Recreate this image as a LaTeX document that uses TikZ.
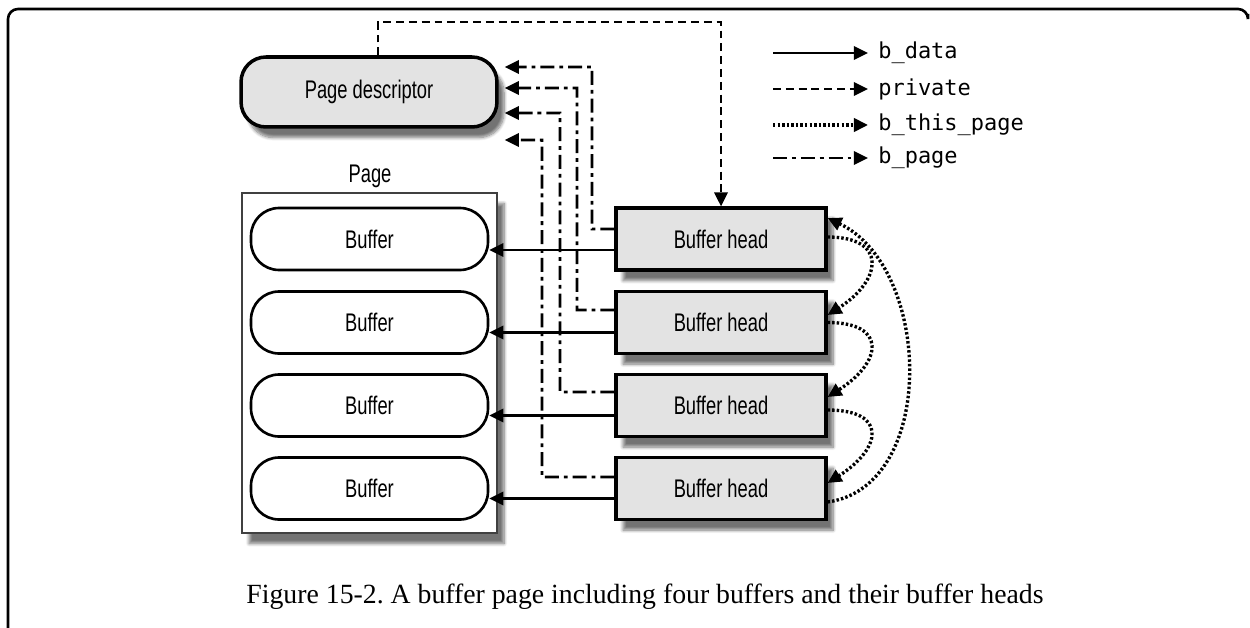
\documentclass[tikz,border=0pt]{standalone}
\usepackage{fontspec}
\setmainfont{Liberation Serif}
\newfontfamily\cond[FakeStretch=0.72]{Liberation Sans}
\newfontfamily\mono{DejaVu Sans Mono}
\usetikzlibrary{arrows.meta,shadows.blur}
\definecolor{boxgray}{HTML}{E3E3E3}
\frenchspacing
\begin{document}
\begin{tikzpicture}[x=0.02cm,y=-0.02cm,
  tip/.style={-{Triangle[length=8pt,width=7.5pt]}},
  bdata/.style={tip, line width=1.6pt},
  bpriv/.style={tip, line width=1.6pt, dash pattern=on 4.5pt off 2.8pt},
  bthis/.style={tip, line width=1.9pt, dash pattern=on 1.4pt off 1.2pt},
  bpage/.style={tip, line width=1.6pt, dash pattern=on 8pt off 2.8pt on 2.2pt off 2.8pt},
  shad/.style={blur shadow={shadow xshift=4pt,shadow yshift=-6pt,shadow opacity=55,shadow blur steps=8}},
  lbl/.style={font=\cond\fontsize{14.5}{16}\selectfont},
  bhbox/.style={draw, line width=1.8pt, fill=boxgray, minimum width=4.2cm, minimum height=1.24cm, lbl, shad},
  bufbox/.style={draw, line width=1.5pt, fill=white, rounded corners=0.56cm, minimum width=4.74cm, minimum height=1.24cm, lbl},
  legtxt/.style={anchor=west, inner sep=0pt, font=\mono\fontsize{12.5}{14}\selectfont}
]
\useasboundingbox (0,0) rectangle (1250,628);
% frame
\draw[line width=1.5pt, rounded corners=0.2cm] (8,628) -- (8,9) -- (1248,9) -- (1248,14);

% page descriptor
\node[draw, line width=2pt, fill=boxgray, rounded corners=0.5cm, minimum width=5.12cm, minimum height=1.4cm, lbl, shad] (pd) at (369,92) {Page descriptor};

% page
\node[lbl] (pagelbl) at (370,176) {Page};
\node[draw, line width=1pt, draw=black!75, fill=white, minimum width=5.1cm, minimum height=6.8cm, shad] (page) at (369.5,363) {};

% buffers
\node[bufbox] (buf1) at (369.5,239) {Buffer};
\node[bufbox] (buf2) at (369.5,322.5) {Buffer};
\node[bufbox] (buf3) at (369.5,405.5) {Buffer};
\node[bufbox] (buf4) at (369.5,488.5) {Buffer};

% buffer heads
\node[bhbox] (bh1) at (721,239) {Buffer head};
\node[bhbox] (bh2) at (721,322.5) {Buffer head};
\node[bhbox] (bh3) at (721,405.5) {Buffer head};
\node[bhbox] (bh4) at (721,488.5) {Buffer head};

% b_data
\draw[bdata] ([yshift=-0.22cm]bh1.west) -- ([yshift=-0.22cm]buf1.east);
\draw[bdata] ([yshift=-0.2cm]bh2.west) -- ([yshift=-0.2cm]buf2.east);
\draw[bdata] ([yshift=-0.2cm]bh3.west) -- ([yshift=-0.2cm]buf3.east);
\draw[bdata] ([yshift=-0.2cm]bh4.west) -- ([yshift=-0.2cm]buf4.east);

% b_page
\draw[bpage] ([yshift=0.2cm]bh1.west) -| (592,67) -- ([xshift=0.12cm,yshift=0.5cm]pd.east);
\draw[bpage] ([yshift=0.25cm]bh2.west) -| (577,88) -- ([xshift=0.12cm,yshift=0.08cm]pd.east);
\draw[bpage] ([yshift=0.27cm]bh3.west) -| (560,113) -- ([xshift=0.12cm,yshift=-0.42cm]pd.east);
\draw[bpage] ([yshift=0.23cm]bh4.west) -| (542,140) -- ([xshift=0.12cm,yshift=-0.96cm]pd.east);

% private
\draw[bpriv] ([xshift=0.18cm]pd.north) |- (721,22) -- (bh1.north);

% b_this_page
\draw[bthis] ([yshift=0.04cm]bh1.east) .. controls +(60,0) and +(55,-35) .. ([yshift=0.15cm]bh2.east);
\draw[bthis] (bh2.east) .. controls +(60,0) and +(55,-35) .. ([yshift=0.17cm]bh3.east);
\draw[bthis] ([yshift=-0.09cm]bh3.east) .. controls +(60,0) and +(55,-35) .. ([yshift=0.11cm]bh4.east);
\draw[bthis] ([yshift=-0.27cm]bh4.east) .. controls +(110,-15) and +(105,50) .. ([yshift=0.42cm]bh1.east);

% legend
\node[legtxt] (l1) at (878,53) {b\_data};
\node[legtxt] (l2) at (878,89) {private};
\node[legtxt] (l3) at (878,125) {b\_this\_page};
\node[legtxt] (l4) at (878,158) {b\_page};
\coordinate (s1) at (773,53);
\coordinate (s2) at (773,89);
\coordinate (s3) at (773,125);
\coordinate (s4) at (773,158);
\draw[bdata] (s1) -- ([xshift=-0.2cm]l1.west);
\draw[bpriv] (s2) -- ([xshift=-0.2cm]l2.west);
\draw[bthis] (s3) -- ([xshift=-0.2cm]l3.west);
\draw[bpage] (s4) -- ([xshift=-0.2cm]l4.west);

% caption
\node[font=\fontsize{15.8}{18}\selectfont] (cap) at (645,597) {Figure 15-2. A buffer page including four buffers and their buffer heads};
\end{tikzpicture}
\end{document}
